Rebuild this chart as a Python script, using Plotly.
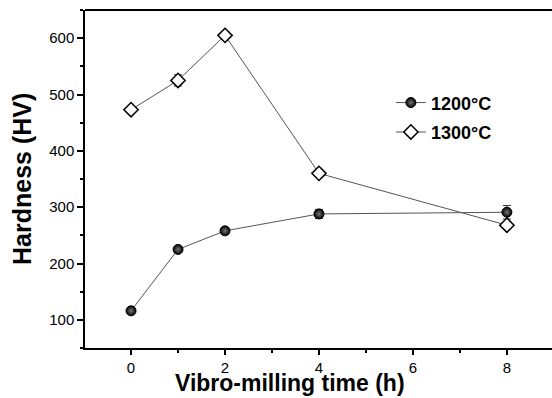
import plotly.graph_objects as go

time_h = [0, 1, 2, 4, 8]
hv_1200 = [116, 225, 258, 288, 291]
err_1200 = [4, 5, 4, 8, 12]
hv_1300 = [473, 525, 605, 360, 268]
err_1300 = [6, 10, 5, 5, 6]
series_names = ["1200°C", "1300°C"]
x_ticks = [0, 2, 4, 6, 8]
y_ticks = [100, 200, 300, 400, 500, 600]

FONT = "Liberation Sans, Arial, sans-serif"

fig = go.Figure()
fig.add_trace(go.Scatter(
    x=time_h, y=hv_1200, name="<b>" + series_names[0] + "</b>", mode="lines+markers",
    legendgroup="a",
    line=dict(color="#555555", width=1),
    marker=dict(symbol="circle", size=10, color="#000000",
                gradient=dict(type="radial", color="#777777"),
                line=dict(color="#000000", width=1)),
    error_y=dict(type="data", array=err_1200, color="#333333", thickness=1, width=4),
))
fig.add_trace(go.Scatter(
    x=time_h, y=hv_1300, name="<b>" + series_names[1] + "</b>", mode="lines+markers",
    legendgroup="b",
    line=dict(color="#555555", width=1),
    marker=dict(symbol="diamond", size=11, color="#ffffff",
                line=dict(color="#000000", width=1.5)),
    error_y=dict(type="data", array=err_1300, color="#333333", thickness=1, width=4),
))

axis_font = dict(family=FONT, size=15, color="#000000")
fig.update_xaxes(
    range=[-0.98, 8.96], tickvals=x_ticks, ticks="outside", ticklen=5, tickwidth=1.5,
    tickcolor="#000", showline=True, linecolor="#000", linewidth=1.5, mirror=False,
    showgrid=False, zeroline=False, tickfont=axis_font,
    tickprefix="<b>", ticksuffix="</b>",
    minor=dict(ticks="outside", ticklen=3, tickwidth=1.5, tickcolor="#000", dtick=1, tick0=1, showgrid=False),
)
fig.update_yaxes(
    range=[50, 650], tickvals=y_ticks, ticks="outside", ticklen=6, tickwidth=1.5,
    tickcolor="#000", showline=True, linecolor="#000", linewidth=1.5, mirror=False,
    showgrid=False, zeroline=False, tickfont=axis_font,
    tickprefix="<b>", ticksuffix="</b>",
    minor=dict(ticks="outside", ticklen=3, tickwidth=1.5, tickcolor="#000", dtick=100, tick0=50, showgrid=False),
)
fig.add_shape(type="line", xref="paper", yref="paper", x0=0, x1=1, y0=1, y1=1,
              line=dict(color="#000", width=2))

fig.add_annotation(text="<b>Vibro-milling time (h)</b>", xref="paper", yref="paper",
                   x=0.44, y=-0.147, xanchor="center", yanchor="bottom", showarrow=False,
                   font=dict(family=FONT, size=23, color="#000"))
fig.add_annotation(text="<b>Hardness (HV)</b>", xref="paper", yref="paper",
                   x=-0.135, y=0.5, xanchor="center", yanchor="middle", showarrow=False,
                   textangle=-90,
                   font=dict(family=FONT, size=25, color="#000"))

fig.update_layout(
    width=552, height=398,
    margin=dict(l=85, r=0, t=10, b=50),
    paper_bgcolor="white", plot_bgcolor="white",
    font=dict(family=FONT, color="#000"),
    showlegend=True,
    legend=dict(x=0.655, y=0.78, xanchor="left", yanchor="top",
                bgcolor="rgba(0,0,0,0)", font=dict(size=18, color="#000", family=FONT),
                itemwidth=30, tracegroupgap=3),
)

fig.write_html("out.html", config={"displayModeBar": False},
               post_script="document.body.style.margin='0';document.body.style.padding='0';")
